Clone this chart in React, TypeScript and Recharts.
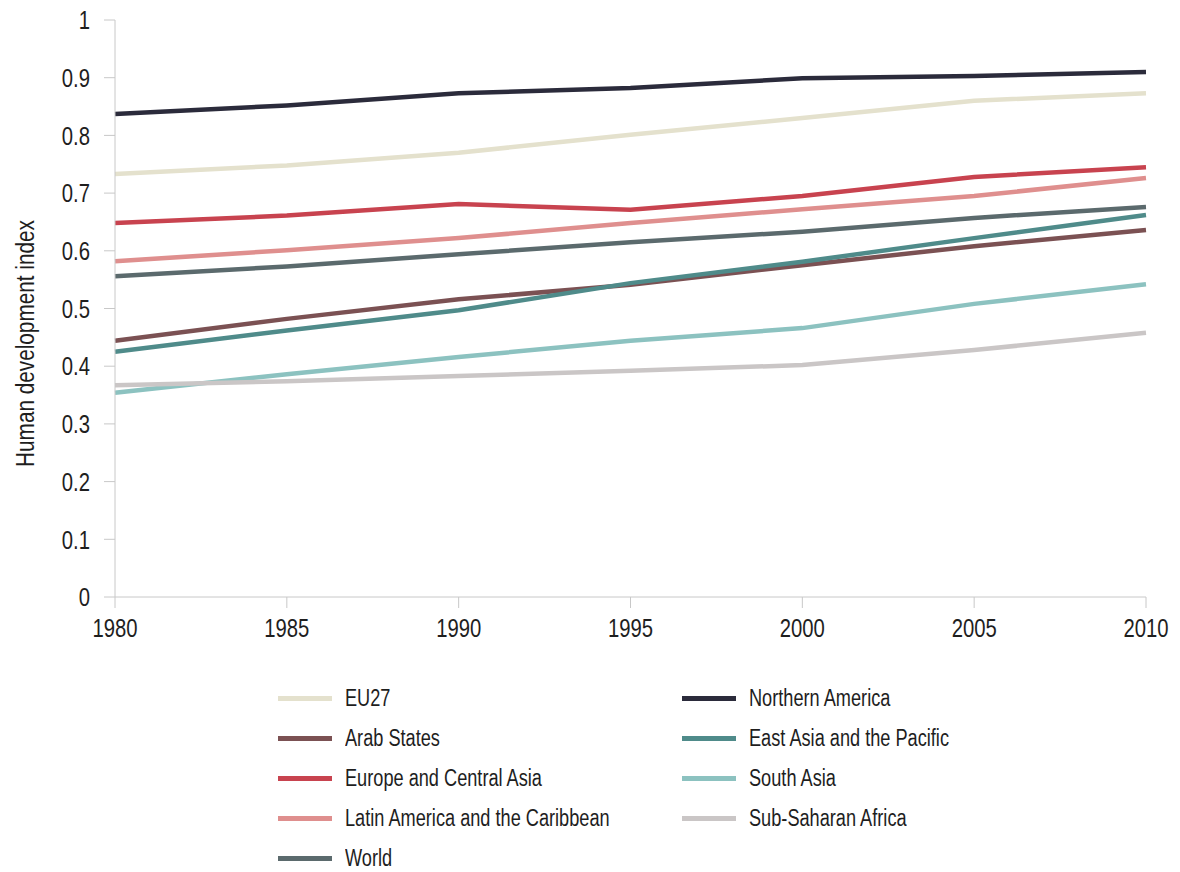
import { LineChart, Line, XAxis, YAxis } from "recharts";

const years = [1980, 1985, 1990, 1995, 2000, 2005, 2010];

const eu27 = [0.733, 0.748, 0.77, 0.801, 0.83, 0.86, 0.873];
const arabStates = [0.444, 0.482, 0.516, 0.541, 0.575, 0.608, 0.636];
const europeCentralAsia = [0.648, 0.661, 0.681, 0.671, 0.695, 0.728, 0.745];
const latinAmerica = [0.582, 0.601, 0.622, 0.648, 0.672, 0.695, 0.726];
const world = [0.556, 0.573, 0.594, 0.615, 0.633, 0.657, 0.676];
const northernAmerica = [0.837, 0.852, 0.873, 0.882, 0.899, 0.903, 0.91];
const eastAsiaPacific = [0.425, 0.462, 0.497, 0.544, 0.581, 0.622, 0.662];
const southAsia = [0.354, 0.386, 0.416, 0.444, 0.466, 0.508, 0.542];
const subSaharanAfrica = [0.367, 0.374, 0.383, 0.392, 0.402, 0.428, 0.458];

const yTicks = [0, 0.1, 0.2, 0.3, 0.4, 0.5, 0.6, 0.7, 0.8, 0.9, 1];

const leftSeries = [
  { key: "eu27", name: "EU27", color: "#e4e1cd", values: eu27 },
  { key: "arab", name: "Arab States", color: "#7b5153", values: arabStates },
  { key: "eca", name: "Europe and Central Asia", color: "#c8434f", values: europeCentralAsia },
  { key: "lac", name: "Latin America and the Caribbean", color: "#df8f8e", values: latinAmerica },
  { key: "world", name: "World", color: "#5b6a6d", values: world },
];

const rightSeries = [
  { key: "na", name: "Northern America", color: "#2b2b3b", values: northernAmerica },
  { key: "eap", name: "East Asia and the Pacific", color: "#4f8b8a", values: eastAsiaPacific },
  { key: "sa", name: "South Asia", color: "#8cc2c0", values: southAsia },
  { key: "ssa", name: "Sub-Saharan Africa", color: "#cac6c6", values: subSaharanAfrica },
];

const allSeries = [...leftSeries, ...rightSeries];

const data = years.map((year, i) => {
  const row: Record<string, number> = { year };
  allSeries.forEach((s) => {
    row[s.key] = s.values[i];
  });
  return row;
});

// narrow look: Liberation Sans squeezed horizontally
const FONT = "'Liberation Sans', Arial, sans-serif";
const AXIS = "#c8c8c8";
const TEXT = "#1e1e1e";

const makeTick = (anchor: string, dy: string) => (props: any) => (
  <g transform={`translate(${props.x},${props.y})`}>
    <text
      transform="scale(0.78,1)"
      textAnchor={anchor}
      dy={dy}
      fontFamily={FONT}
      fontSize={26}
      fill={TEXT}
    >
      {props.payload.value}
    </text>
  </g>
);

const XTick = makeTick("middle", "0.71em");
const YTick = makeTick("end", "0.355em");

const YLabel = ({ viewBox }: any) => {
  const cy = viewBox.y + viewBox.height / 2 + 35;
  return (
    <g transform={`translate(17, ${cy}) rotate(-90)`}>
      <text
        transform="scale(0.83,1)"
        textAnchor="middle"
        dominantBaseline="central"
        fontFamily={FONT}
        fontSize={25}
        fill={TEXT}
      >
        Human development index
      </text>
    </g>
  );
};

const LegendColumn = ({ items, left }: { items: typeof leftSeries; left: number }) => (
  <div style={{ position: "absolute", left, top: 0 }}>
    {items.map((s) => (
      <div key={s.key} style={{ display: "flex", alignItems: "center", height: 40 }}>
        <span style={{ width: 54, height: 5, background: s.color, marginRight: 13 }} />
        <span
          style={{
            display: "inline-block",
            fontFamily: FONT,
            fontSize: 23,
            lineHeight: "26px",
            color: TEXT,
            whiteSpace: "nowrap",
            transform: "scaleX(0.79)",
            transformOrigin: "left center",
          }}
        >
          {s.name}
        </span>
      </div>
    ))}
  </div>
);

export default function App() {
  return (
    <div style={{ position: "relative", width: 1164, height: 864 }}>
      <LineChart
        width={1164}
        height={660}
        data={data}
        margin={{ top: 12, right: 26, bottom: 21, left: 0 }}
        style={{ overflow: "visible" }}
      >
        <XAxis
          dataKey="year"
          type="number"
          domain={[1980, 2010]}
          ticks={years}
          height={50}
          tickSize={11}
          tickMargin={11}
          stroke={AXIS}
          tick={XTick}
        />
        <YAxis
          domain={[0, 1]}
          ticks={yTicks}
          width={107}
          tickSize={11}
          tickMargin={14}
          stroke={AXIS}
          tick={YTick}
          label={<YLabel />}
        />
        {allSeries.map((s) => (
          <Line
            key={s.key}
            dataKey={s.key}
            name={s.name}
            type="linear"
            stroke={s.color}
            strokeWidth={4.5}
            dot={false}
            isAnimationActive={false}
          />
        ))}
      </LineChart>
      <div style={{ position: "absolute", left: 0, top: 670 }}>
        <LegendColumn items={leftSeries} left={270} />
        <LegendColumn items={rightSeries} left={674} />
      </div>
    </div>
  );
}
